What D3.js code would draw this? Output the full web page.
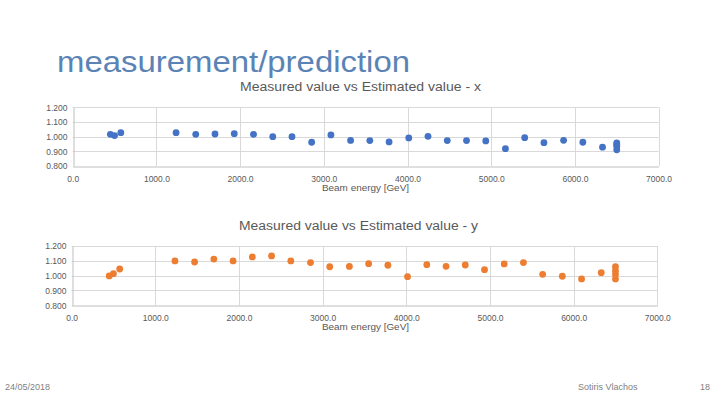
<!DOCTYPE html>
<html>
<head>
<meta charset="utf-8">
<script src="https://cdn.jsdelivr.net/npm/d3@7"></script>
<style>
  body { margin: 0; background: #fff; }
  svg { display: block; font-family: "Liberation Sans", Arial, sans-serif; }
</style>
</head>
<body>
<svg id="slide" width="720" height="405"></svg>
<script>
// beam energy steps (GeV), one entry per measured point
const energy = [450, 500, 575, 1235, 1470, 1700, 1930, 2160, 2390, 2620, 2855, 3085, 3320, 3550, 3780,
                4015, 4245, 4475, 4705, 4935, 5170, 5400, 5630, 5865, 6095, 6330, 6500, 6500, 6500, 6500];
// measured / predicted, x plane
const ratioX = [1.016, 1.007, 1.027, 1.027, 1.016, 1.018, 1.020, 1.016, 1.000, 1.000, 0.962, 1.012, 0.974, 0.973, 0.964,
                0.991, 1.002, 0.973, 0.973, 0.971, 0.918, 0.993, 0.959, 0.975, 0.962, 0.928, 0.958, 0.948, 0.935, 0.910];
// measured / predicted, y plane
const ratioY = [0.998, 1.013, 1.045, 1.099, 1.092, 1.112, 1.099, 1.126, 1.133, 1.099, 1.088, 1.060, 1.062, 1.081, 1.070,
                0.993, 1.074, 1.063, 1.072, 1.040, 1.079, 1.088, 1.009, 0.996, 0.978, 1.020, 1.060, 1.033, 1.009, 0.978];
const xTicks = [0, 1000, 2000, 3000, 4000, 5000, 6000, 7000];
const yTicks = [0.8, 0.9, 1.0, 1.1, 1.2];

const svg = d3.select("#slide");
const grey = "#595959";

// slide title
svg.append("text")
    .attr("x", 57).attr("y", 72)
    .attr("textLength", 353).attr("lengthAdjust", "spacingAndGlyphs")
    .style("font-size", "30px")
    .attr("fill", "#5b83b5")
    .text("measurement/prediction");

function drawChart(opt) {
    let x = d3.scaleLinear().domain([0, 7000]).range([opt.left, opt.right]);
    let y = d3.scaleLinear().domain([0.8, 1.2]).range([opt.bottom, opt.top]);
    let g = svg.append("g");

    // chart title
    g.append("text")
        .attr("x", opt.titleX).attr("y", opt.titleY)
        .attr("textLength", opt.titleW).attr("lengthAdjust", "spacingAndGlyphs")
        .style("font-size", "12px")
        .attr("fill", grey)
        .text(opt.title);

    // gridlines
    g.append("g").selectAll("line.h")
        .data(yTicks.slice(1))
        .enter().append("line")
        .attr("x1", opt.left).attr("x2", opt.right)
        .attr("y1", d => Math.round(y(d)) + 0.5).attr("y2", d => Math.round(y(d)) + 0.5)
        .attr("stroke", "#d9d9d9");
    g.append("g").selectAll("line.v")
        .data(xTicks.slice(1))
        .enter().append("line")
        .attr("x1", d => Math.round(x(d)) + 0.5).attr("x2", d => Math.round(x(d)) + 0.5)
        .attr("y1", opt.top).attr("y2", opt.bottom)
        .attr("stroke", "#d9d9d9");

    // axes
    let xAxis = g.append("g")
        .attr("transform", `translate(0, ${Math.round(opt.bottom) + 0.5})`)
        .call(d3.axisBottom(x).tickValues(xTicks).tickSize(0).tickPadding(9).tickFormat(d3.format(".1f")));
    xAxis.select(".domain").attr("stroke", "#bfbfbf");
    xAxis.selectAll("text").style("font-size", "8.5px").attr("fill", grey);

    let yAxis = g.append("g")
        .attr("transform", `translate(${Math.round(opt.left) + 0.5}, 0)`)
        .call(d3.axisLeft(y).tickValues(yTicks).tickSize(0).tickPadding(6).tickFormat(d3.format(".3f")));
    yAxis.select(".domain").attr("stroke", "#bfbfbf");
    yAxis.selectAll("text").style("font-size", "8.5px").attr("fill", grey);

    // axis label
    g.append("text")
        .attr("x", 322).attr("y", opt.bottom + 25)
        .attr("textLength", 87).attr("lengthAdjust", "spacingAndGlyphs")
        .style("font-size", "9px")
        .attr("fill", grey)
        .text("Beam energy [GeV]");

    // markers
    g.append("g").selectAll("circle")
        .data(opt.values)
        .enter().append("circle")
        .attr("cx", (d, i) => x(energy[i]))
        .attr("cy", d => y(d))
        .attr("r", 3.4)
        .attr("fill", opt.color);
}

drawChart({
    title: "Measured value vs Estimated value - x",
    titleX: 240, titleY: 91, titleW: 241,
    left: 72.7, right: 658.6, top: 107.3, bottom: 166,
    values: ratioX, color: "#4472c4"
});

drawChart({
    title: "Measured value vs Estimated value - y",
    titleX: 239, titleY: 230, titleW: 239,
    left: 71.6, right: 657.3, top: 246, bottom: 305.3,
    values: ratioY, color: "#ed7d31"
});

// footer
const footer = [
    { x: 5, anchor: "start", text: "24/05/2018" },
    { x: 578, anchor: "start", text: "Sotiris Vlachos" },
    { x: 710, anchor: "end", text: "18" }
];
svg.append("g").selectAll("text")
    .data(footer)
    .enter().append("text")
    .attr("x", d => d.x).attr("y", 390)
    .attr("text-anchor", d => d.anchor)
    .style("font-size", "9px")
    .attr("fill", "#7f7f7f")
    .text(d => d.text);
</script>
</body>
</html>
